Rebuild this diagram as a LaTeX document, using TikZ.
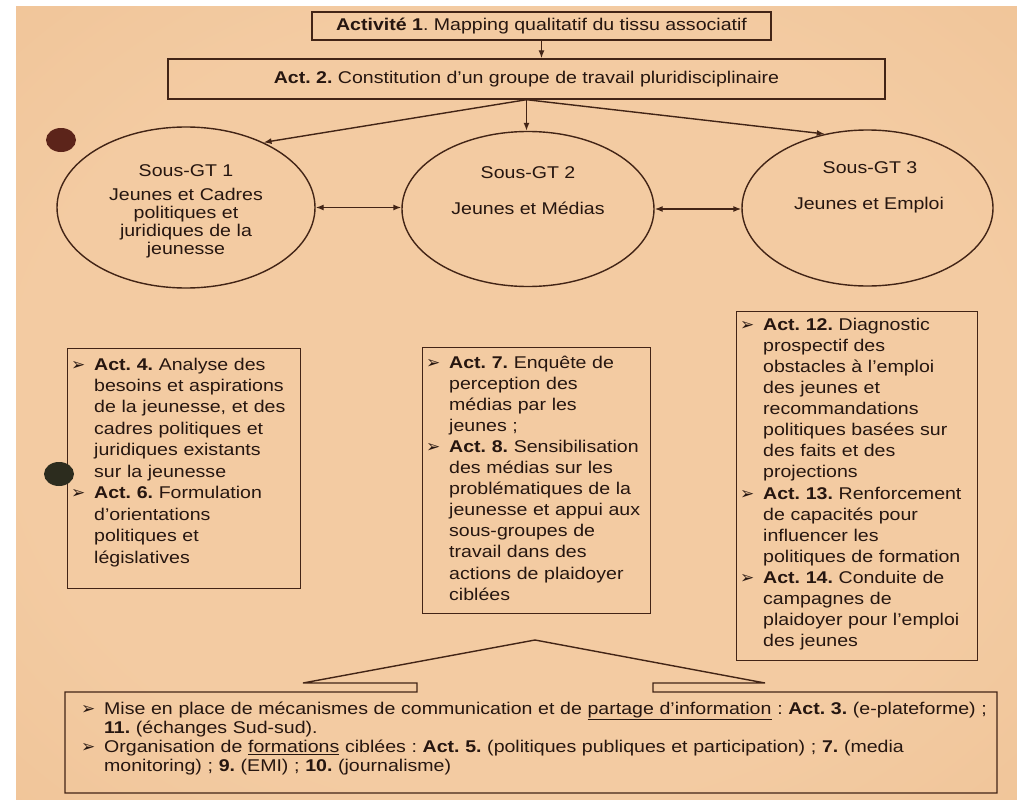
\documentclass[tikz,border=0pt]{standalone}
\usepackage{fontspec}
\setmainfont{Liberation Sans}[FakeStretch=1.15]
\newfontfamily\bulletfont{DejaVu Sans}
\usetikzlibrary{arrows.meta,shapes.geometric}
\definecolor{paperin}{RGB}{243,203,162}
\definecolor{paperout}{RGB}{233,178,126}
\definecolor{ink}{RGB}{38,22,16}
\definecolor{linec}{RGB}{66,36,22}
\definecolor{holea}{RGB}{92,36,26}
\definecolor{holeb}{RGB}{44,44,30}
\pgfdeclareradialshading{paperglow}{\pgfpoint{0bp}{0bp}}{color(0bp)=(paperin); color(25bp)=(paperin); color(71bp)=(paperout); color(100bp)=(paperout)}
\newcommand{\bul}{\leavevmode\llap{\makebox[23pt][l]{\bulletfont\fontsize{17}{17}\selectfont ➢}}}
\frenchspacing
\begin{document}
\frenchspacing
\begin{tikzpicture}[x=1pt,y=-1pt,
  frame/.style={draw=linec,line width=1.4pt,inner sep=0pt},
  oval/.style={ellipse,draw=linec,line width=1.4pt,inner sep=0pt},
  arr/.style={draw=linec,line width=1.4pt,-{Latex[length=8pt,width=6pt]}},
  darr/.style={draw=linec,line width=1.4pt,{Latex[length=8pt,width=6pt]}-{Latex[length=8pt,width=6pt]}},
  txt/.style={text=ink,inner sep=0pt,font=\fontsize{17}{21.2}\selectfont},
  ]
\useasboundingbox (0,0) rectangle (1017,800);
\fill[white] (0,0) rectangle (1017,800);
\shade[shading=paperglow] (16,7) rectangle (1017,800);

% top boxes
\node[frame,txt,minimum width=459pt,minimum height=28pt] (b1) at (541.5,26) {\textbf{Activité 1}. Mapping qualitatif du tissu associatif};
\node[frame,txt,minimum width=717pt,minimum height=40pt] (b2) at (526.5,79) {\textbf{Act. 2.} Constitution d’un groupe de travail pluridisciplinaire};

% ellipses
\node[oval,minimum width=258pt,minimum height=161pt] (e1) at (186,207.5) {};
\node[oval,minimum width=252pt,minimum height=155pt] (e2) at (528,209) {};
\node[oval,minimum width=251pt,minimum height=156pt] (e3) at (867.5,208) {};

\node[txt,anchor=base] (e1h) at (186,176) {Sous-GT 1};
\node[txt,anchor=base,text width=220pt,align=center,font=\fontsize{17}{18.3}\selectfont] (e1b) at (186,200) {Jeunes et Cadres\\politiques et\\juridiques de la\\jeunesse};
\node[txt,anchor=base] (e2h) at (528,178) {Sous-GT 2};
\node[txt,anchor=base] (e2b) at (528,214) {Jeunes et Médias};
\node[txt,anchor=base] (e3h) at (870,173) {Sous-GT 3};
\node[txt,anchor=base] (e3b) at (869,209) {Jeunes et Emploi};

% connectors
\draw[arr] (b1.south) -- (b1.south |- b2.north);
\draw[arr] (b2.south) -- (b2.south |- e2.north);
\draw[arr] (b2.south) -- (e1.40);
\draw[arr] (b2.south) -- (e3.120);
\draw[darr] (e1.east) -- (e1.east -| e2.west);
\draw[darr] (e2.east) -- (e2.east -| e3.west);

% activity boxes
\node[frame,anchor=north west,minimum width=233pt,minimum height=240pt] (b4) at (67,348) {};
\node[frame,anchor=north west,minimum width=228pt,minimum height=266pt] (b7) at (422,347) {};
\node[frame,anchor=north west,minimum width=241pt,minimum height=349pt] (b12) at (736,311) {};

\node[txt,anchor=base west,text width=240pt,align=left,font=\fontsize{17}{21.45}\selectfont] (t4) at (94,370) {\bul\textbf{Act. 4.} Analyse des\\besoins et aspirations\\de la jeunesse, et des\\cadres politiques et\\juridiques existants\\sur la jeunesse\\\bul\textbf{Act. 6.} Formulation\\d’orientations\\politiques et\\législatives};

\node[txt,anchor=base west,text width=240pt,align=left,font=\fontsize{17}{21.1}\selectfont] (t7) at (449,368) {\bul\textbf{Act. 7.} Enquête de\\perception des\\médias par les\\jeunes ;\\\bul\textbf{Act. 8.} Sensibilisation\\des médias sur les\\problématiques de la\\jeunesse et appui aux\\sous-groupes de\\travail dans des\\actions de plaidoyer\\ciblées};

\node[txt,anchor=base west,text width=240pt,align=left,font=\fontsize{17}{21.13}\selectfont] (t12) at (763,330) {\bul\textbf{Act. 12.} Diagnostic\\prospectif des\\obstacles à l’emploi\\des jeunes et\\recommandations\\politiques basées sur\\des faits et des\\projections\\\bul\textbf{Act. 13.} Renforcement\\de capacités pour\\influencer les\\politiques de formation\\\bul\textbf{Act. 14.} Conduite de\\campagnes de\\plaidoyer pour l’emploi\\des jeunes};

% bottom callout box
\draw[frame] (65,692) -- (417,692) -- (417,683) -- (303,683) -- (535,640) -- (765,683) -- (653,683) -- (653,692) -- (997,692) -- (997,793) -- (65,793) -- cycle;
\node[txt,anchor=base west,text width=920pt,align=left,font=\fontsize{17}{19.3}\selectfont] (tb) at (104,714) {\bul Mise en place de mécanismes de communication et de \underline{partage d’information} : \textbf{Act. 3.} (e-plateforme) ;\\\textbf{11.} (échanges Sud-sud).\\\bul Organisation de \underline{formations} ciblées : \textbf{Act. 5.} (politiques publiques et participation) ; \textbf{7.} (media\\monitoring) ; \textbf{9.} (EMI) ; \textbf{10.} (journalisme)};

% punch holes
\fill[holea] (61,140) ellipse [x radius=15pt,y radius=12pt];
\fill[holeb] (59,474) ellipse [x radius=15pt,y radius=12pt];
\end{tikzpicture}
\end{document}
